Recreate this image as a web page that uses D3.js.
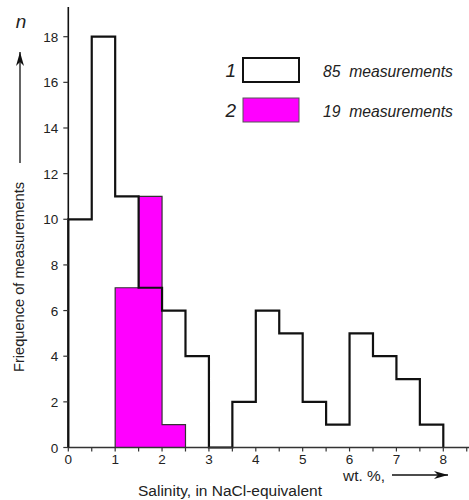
<!DOCTYPE html>
<html><head><meta charset="utf-8">
<script src="https://cdn.jsdelivr.net/npm/d3@7"></script>
<style>body{margin:0;background:#fff}svg{display:block}text{font-family:"Liberation Sans",Arial,sans-serif;fill:#222}</style>
</head><body>
<svg id="c" width="469" height="500"></svg>
<script>
const binStarts = [0,0.5,1,1.5,2,2.5,3,3.5,4,4.5,5,5.5,6,6.5,7,7.5];
const series1 = [10,18,11,7,6,4,0,2,6,5,2,1,5,4,3,1];
const series2Starts = [1,1.5,2];
const series2 = [7,11,1];
const binWidth = 0.5;
const xTicks = [0,1,2,3,4,5,6,7,8];
const xMinorTicks = [0.5,1.5,2.5,3.5,4.5,5.5,6.5,7.5,8.5];
const yTicks = [0,2,4,6,8,10,12,14,16,18];
const legendItems = [{k:"1", txt:"85  measurements"},{k:"2", txt:"19  measurements"}];

const svg = d3.select("#c");
const x = d3.scaleLinear().domain([0,8]).range([68.3,443.3]);
const y = d3.scaleLinear().domain([0,18]).range([447.5,36.7]);

// fit a text's font size so that its length matches a target width
function fit(sel, w){
  sel.each(function(){
    const fs = parseFloat(this.getAttribute("font-size"));
    const len = this.getComputedTextLength();
    if(len>0) this.setAttribute("font-size", (fs*w/len).toFixed(2));
  });
  return sel;
}

// series 2 as one step area
const p2 = [[series2Starts[0],0]].concat(series2Starts.map((b,i)=>[b,series2[i]]))
  .concat([[series2Starts[series2Starts.length-1]+binWidth,0]]);
const line = d3.line().x(d=>x(d[0])).y(d=>y(d[1])).curve(d3.curveStepAfter);
svg.append("path").attr("d", line(p2)+"Z").attr("fill","#ff00ff").attr("stroke","#333").attr("stroke-width",1.2);

// series 1 step outline
const pts = [[0,0]].concat(binStarts.map((b,i)=>[b,series1[i]])).concat([[8,0]]);
svg.append("path").attr("d", line(pts)).attr("fill","none").attr("stroke","#111").attr("stroke-width",2.2);

// x axis
const xAxisG = svg.append("g").attr("transform",`translate(0,${y(0)})`);
xAxisG.append("line").attr("x1",x(0)).attr("x2",469).attr("stroke","#333").attr("stroke-width",1.5);
xAxisG.selectAll("line.t").data(xTicks.concat(xMinorTicks)).join("line")
  .attr("x1",d=>x(d)).attr("x2",d=>x(d)).attr("y1",0).attr("y2",4).attr("stroke","#333").attr("stroke-width",1.2);
xAxisG.selectAll("text").data(xTicks).join("text")
  .attr("x",d=>x(d)).attr("y",16.5).attr("text-anchor","middle").attr("font-size",13.5).attr("fill","#333").text(d=>d);

// y axis
const yAxisG = svg.append("g").attr("transform",`translate(${x(0)},0)`);
yAxisG.append("line").attr("y1",7).attr("y2",y(0)).attr("stroke","#111").attr("stroke-width",1.6);
yAxisG.selectAll("line.t").data(yTicks).join("line")
  .attr("x1",-5).attr("x2",0).attr("y1",d=>y(d)).attr("y2",d=>y(d)).attr("stroke","#333").attr("stroke-width",1.2);
yAxisG.selectAll("text").data(yTicks).join("text")
  .attr("x",-10).attr("y",d=>y(d)+5).attr("text-anchor","end").attr("font-size",13.5).attr("fill","#333").text(d=>d);

// arrows
const defs = svg.append("defs");
defs.append("marker").attr("id","ah").attr("viewBox","0 0 14 8").attr("refX",14).attr("refY",4)
  .attr("markerWidth",14).attr("markerHeight",8).attr("markerUnits","userSpaceOnUse").attr("orient","auto")
  .append("path").attr("d","M0,0 L14,4 L0,8 L4,4 Z").attr("fill","#111");
svg.append("line").attr("x1",20).attr("x2",20).attr("y1",163).attr("y2",52).attr("stroke","#111").attr("stroke-width",1.3).attr("marker-end","url(#ah)");
svg.append("line").attr("x1",392).attr("x2",448).attr("y1",475).attr("y2",475).attr("stroke","#111").attr("stroke-width",1.3).attr("marker-end","url(#ah)");

// labels
svg.append("text").attr("x",21).attr("y",28).attr("text-anchor","middle").attr("font-size",19).attr("font-style","italic").text("n");
fit(svg.append("text").attr("transform","translate(24,277) rotate(-90)").attr("text-anchor","middle").attr("font-size",14).text("Friequence of measurements"),190);
fit(svg.append("text").attr("x",230).attr("y",496).attr("text-anchor","middle").attr("font-size",14).text("Salinity, in NaCl-equivalent"),184);
fit(svg.append("text").attr("x",343).attr("y",481).attr("font-size",14).text("wt. %,"),42);

// legend
const lg = svg.selectAll("g.lg").data(legendItems).join("g").attr("transform",(d,i)=>`translate(0,${58+i*40})`);
lg.append("rect").attr("x",243).attr("y",0).attr("width",56).attr("height",24)
  .attr("fill",(d,i)=>i===0?"#fff":"#ff00ff").attr("stroke",(d,i)=>i===0?"#111":"#555").attr("stroke-width",(d,i)=>i===0?2:1);
lg.append("text").attr("x",236).attr("y",19).attr("text-anchor","end").attr("font-size",19).attr("font-style","italic").text(d=>d.k);
fit(lg.append("text").attr("x",323).attr("y",19).attr("font-size",15).attr("font-style","italic").style("white-space","pre").text(d=>d.txt),130);
</script>
</body></html>
